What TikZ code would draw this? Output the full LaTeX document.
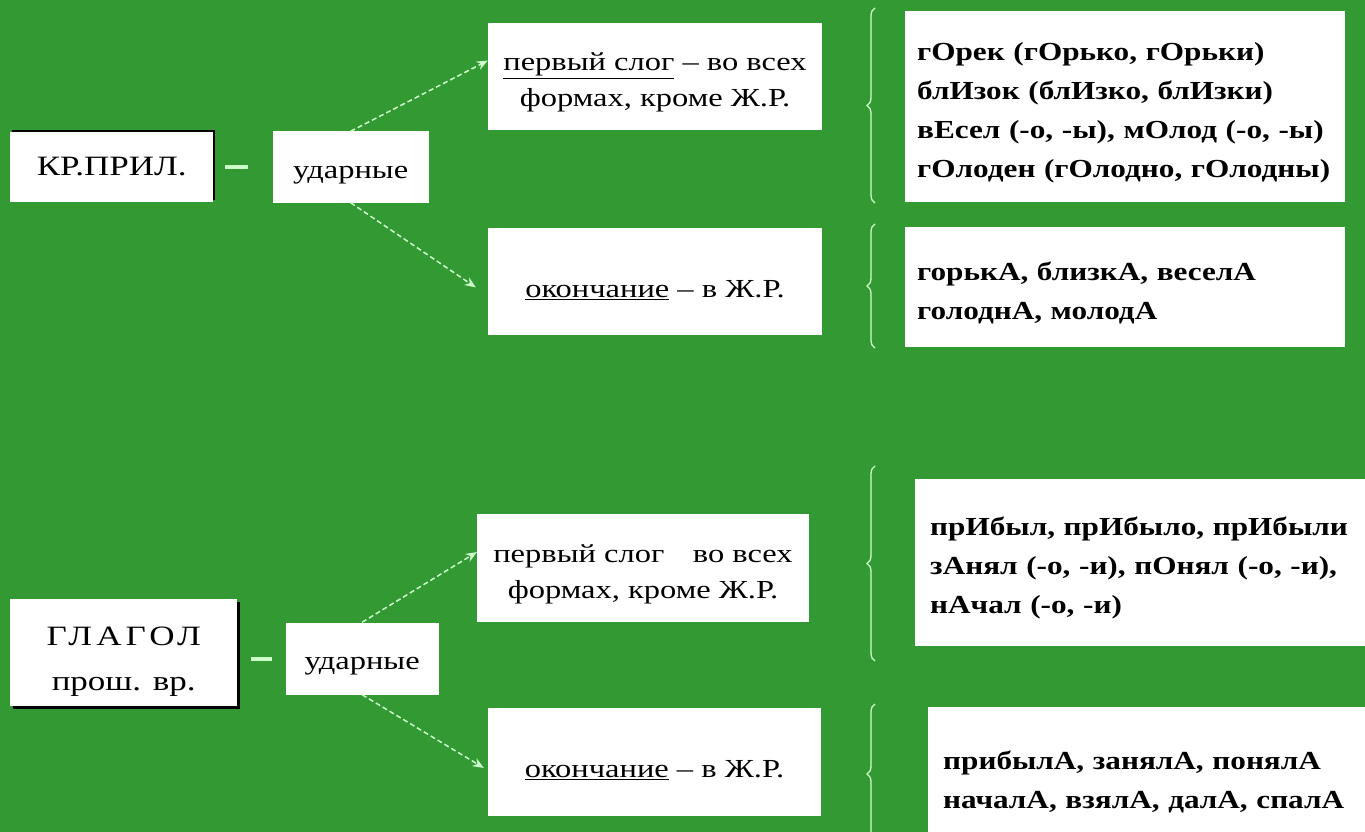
\documentclass[tikz,border=0pt]{standalone}
\usepackage{fontspec}
\setmainfont{Liberation Serif}[FakeStretch=1.25]
\newfontfamily\examplefont{Liberation Serif}[FakeStretch=1.2]
\usepackage{tikz}
\usetikzlibrary{positioning, shadows, arrows.meta, decorations.pathreplacing}
\definecolor{slidegreen}{RGB}{51,153,51}
\definecolor{palegreen}{RGB}{204,255,204}

\begin{document}
\begin{tikzpicture}[x=1pt, y=-1pt, >={Stealth[length=11pt, width=9pt]},
    low text/.style={execute at begin node={\rule{0pt}{#1}}},
    base node/.style={rectangle, fill=white, inner sep=0pt, align=center, font=\fontsize{26}{36}\selectfont},
    head node/.style={base node, font=\fontsize{28}{45}\selectfont},
    stress node/.style={base node, low text=28pt},
    rule node/.style={base node, minimum height=107pt},
    example node/.style={rectangle, fill=white, anchor=north west, inner xsep=15pt, inner ysep=0pt,
      align=left, low text=30pt, font=\fontsize{26}{39}\examplefont\bfseries},
    green arrow/.style={->, color=palegreen, dash pattern=on 5pt off 3pt, line width=1.5pt},
    green dash/.style={draw=palegreen, line width=4pt},
    green brace/.style={draw=palegreen, line width=1.3pt, decorate, decoration={brace, amplitude=8pt}}]

  % Slide background
  \useasboundingbox (0,0) rectangle (1365,832);
  \clip (0,0) rectangle (1365,832);
  \fill[slidegreen] (0,0) rectangle (1365,832);

  % Upper part: short adjectives
  \node[head node, minimum width=203pt, minimum height=70pt, anchor=west,
    drop shadow={shadow xshift=2pt, shadow yshift=2pt, fill=black, opacity=1}] (kr) at (10,167) {КР.ПРИЛ.};
  \node[stress node, minimum width=156pt, minimum height=71pt] (ud1) [right=59pt of kr] {ударные};
  \node[rule node, minimum width=334pt, low text=66pt] (m1) [above right=1pt and 59pt of ud1] {\underline{первый слог} – во всех\\формах, кроме Ж.Р.};
  \node[rule node, minimum width=334pt, low text=34pt] (m2) [below right=25pt and 59pt of ud1] {\underline{окончание} – в Ж.Р.};
  \node[example node, inner xsep=12pt, text width=416pt, minimum height=191pt] (r1) at (905,11)
    {гОрек (гОрько, гОрьки)\\блИзок (блИзко, блИзки)\\вЕсел (-о, -ы), мОлод (-о, -ы)\\гОлоден (гОлодно, гОлодны)};
  \node[example node, inner xsep=12pt, text width=416pt, minimum height=120pt] (r2) at (905,227)
    {горькА, близкА, веселА\\голоднА, молодА};

  % Lower part: past tense verbs
  \node[head node, minimum width=227pt, minimum height=107pt, anchor=west, low text=82pt,
    drop shadow={shadow xshift=3pt, shadow yshift=-3pt, fill=black, opacity=1}] (gl) at (10,652.5)
    {\addfontfeature{LetterSpace=15}ГЛАГОЛ\\прош. вр.};
  \node[stress node, minimum width=153pt, minimum height=72pt] (ud2) [right=48pt of gl, yshift=-6pt] {ударные};
  \node[rule node, minimum width=332pt, minimum height=108pt, low text=66pt] (m3) [above right=0pt and 38pt of ud2] {первый слог\hspace{1.1em}во всех\\формах, кроме Ж.Р.};
  \node[rule node, minimum width=333pt, minimum height=108pt, low text=34pt] (m4) [below right=13pt and 49pt of ud2] {\underline{окончание} – в Ж.Р.};
  \node[example node, text width=450pt, minimum height=167pt] (r3) at (915,479)
    {прИбыл, прИбыло, прИбыли\\зАнял (-о, -и), пОнял (-о, -и),\\нАчал (-о, -и)};
  \node[example node, text width=430pt, minimum height=138pt] (r4) at (928,707)
    {прибылА, занялА, понялА\\началА, взялА, далА, спалА};

  % Dashes between the heads
  \draw[green dash] ([xshift=12pt]kr.east) -- ([xshift=-24pt]ud1.west);
  \draw[green dash] ([xshift=-34pt]ud2.west) -- ([xshift=-13pt]ud2.west);

  % Arrows
  \path[green arrow]
    (ud1.north) edge ([yshift=16pt]m1.west)
    (ud1.south) edge ([xshift=-12pt, yshift=-6pt]m2.west)
    (ud2.north) edge ([yshift=16pt]m3.west)
    (ud2.south) edge ([xshift=-4pt, yshift=-6pt]m4.west);

  % Braces
  \draw[green brace] (875,203) -- (875,8);
  \draw[green brace] (875,348) -- (875,224);
  \draw[green brace] (875,661) -- (875,466);
  \draw[green brace] (875,844) -- (875,704);
\end{tikzpicture}
\end{document}
